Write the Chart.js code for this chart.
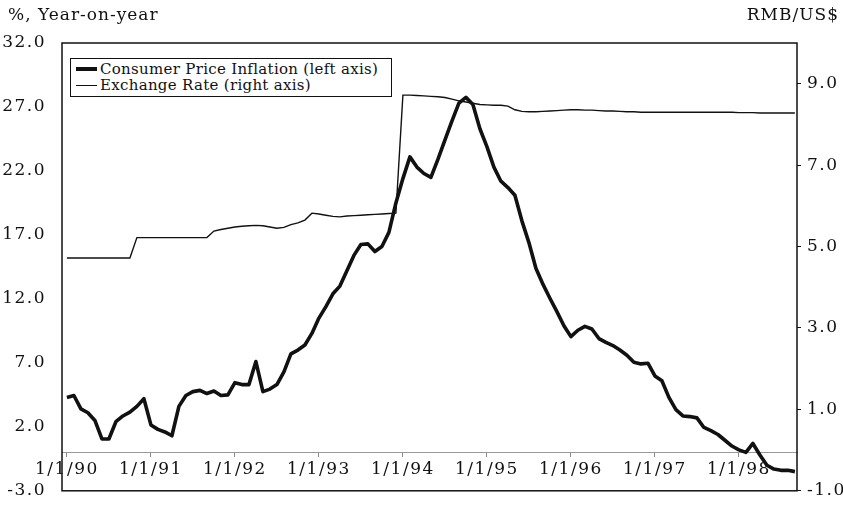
<!DOCTYPE html>
<html>
<head>
<meta charset="utf-8">
<script src="https://cdn.jsdelivr.net/npm/chart.js@4.4.1/dist/chart.umd.min.js"></script>
<style>
  html, body { margin: 0; padding: 0; background: #fff; }
  #wrap { position: relative; width: 843px; height: 509px; font-family: 'DejaVu Serif', serif; color: #111; }
  .axis-title { position: absolute; top: 4px; font-size: 17px; letter-spacing: 1px; }
  #legend {
    position: absolute; left: 70px; top: 58px; width: 322px; height: 39px;
    border: 1px solid #111; background: #fff; box-sizing: border-box;
    padding: 2px 0 0 5px; font-size: 15px; line-height: 16px; letter-spacing: 0.3px;
  }
  .row { display: flex; align-items: center; white-space: nowrap; }
  .swatch { display: inline-block; width: 21px; margin-right: 3px; border-top: 3px solid #111; }
</style>
</head>
<body>
<div id="wrap">
  <canvas id="chart" width="843" height="509"></canvas>
  <div class="axis-title" style="left:8px">%, Year-on-year</div>
  <div class="axis-title" style="right:4px">RMB/US$</div>
  <div id="legend"></div>
</div>
<script>
// monthly, Jan 1990 - Sep 1998
const inflation = [
  4.3, 4.45, 3.4, 3.1, 2.5, 1.05, 1.05, 2.4, 2.85, 3.15, 3.6, 4.2,
  2.15, 1.8, 1.6, 1.3, 3.6, 4.45, 4.75, 4.85, 4.6, 4.8, 4.45, 4.5,
  5.45, 5.3, 5.3, 7.1, 4.75, 4.95, 5.3, 6.3, 7.7, 8.0, 8.4, 9.3,
  10.5, 11.4, 12.4, 13.0, 14.2, 15.4, 16.25, 16.3, 15.7, 16.1, 17.2, 19.5,
  21.4, 23.1, 22.3, 21.8, 21.5, 22.9, 24.4, 25.9, 27.3, 27.75, 27.2, 25.3,
  23.9, 22.3, 21.2, 20.7, 20.1, 18.1, 16.4, 14.4, 13.15, 12.05, 11.0, 9.9,
  9.05, 9.55, 9.85, 9.65, 8.9, 8.6, 8.35, 8.0, 7.6, 7.05, 6.92, 6.97,
  5.98, 5.6, 4.3, 3.35, 2.85, 2.8, 2.7, 1.95, 1.7, 1.4, 0.95, 0.5,
  0.2, 0.0, 0.7, -0.2, -1.0, -1.3, -1.4, -1.4, -1.5
];

const exchangeRate = [
  4.72, 4.72, 4.72, 4.72, 4.72, 4.72, 4.72, 4.72, 4.72, 4.72, 5.22, 5.22,
  5.22, 5.22, 5.22, 5.22, 5.22, 5.22, 5.22, 5.22, 5.22, 5.38, 5.42, 5.45,
  5.48, 5.50, 5.51, 5.52, 5.51, 5.48, 5.45, 5.47, 5.54, 5.58, 5.65, 5.82,
  5.80, 5.77, 5.74, 5.73, 5.75, 5.76, 5.77, 5.78, 5.79, 5.80, 5.81, 5.82,
  8.72, 8.72, 8.71, 8.70, 8.69, 8.68, 8.66, 8.62, 8.58, 8.55, 8.52, 8.49,
  8.48, 8.47, 8.47, 8.45, 8.36, 8.32, 8.31, 8.31, 8.32, 8.33, 8.34, 8.35,
  8.36, 8.36, 8.35, 8.35, 8.34, 8.33, 8.33, 8.32, 8.31, 8.31, 8.30, 8.30,
  8.30, 8.30, 8.30, 8.30, 8.30, 8.30, 8.30, 8.30, 8.30, 8.30, 8.30, 8.30,
  8.29, 8.29, 8.29, 8.28, 8.28, 8.28, 8.28, 8.28, 8.28
];

const tickLabels = ['1/1/90', '1/1/91', '1/1/92', '1/1/93', '1/1/94', '1/1/95', '1/1/96', '1/1/97', '1/1/98'];
const leftTicks = [-3, 2, 7, 12, 17, 22, 27, 32];
const rightTicks = [-1, 1, 3, 5, 7, 9];
const seriesNames = ['Consumer Price Inflation (left axis)', 'Exchange Rate (right axis)'];

const INK = '#111';
const FONT = { family: "'DejaVu Serif', serif", size: 17 };

const toPoints = arr => arr.map((v, i) => ({ x: i, y: v }));

// wider type, closer to the old typewriter-ish serif of the source
const spacing = {
  id: 'spacing',
  beforeUpdate(chart) { chart.ctx.letterSpacing = '1.5px'; },
  beforeDraw(chart) { chart.ctx.letterSpacing = '1.5px'; }
};

const frame = {
  id: 'frame',
  afterDraw(chart) {
    const { ctx, chartArea: a } = chart;
    ctx.save();
    ctx.strokeStyle = INK;
    ctx.lineWidth = 1.5;
    ctx.strokeRect(a.left, a.top, a.right - a.left, a.bottom - a.top);
    ctx.restore();
  }
};

const chart = new Chart(document.getElementById('chart'), {
  type: 'line',
  data: {
    datasets: [
      {
        label: seriesNames[0],
        data: toPoints(inflation),
        yAxisID: 'y',
        borderColor: INK,
        borderWidth: 3.6,
        borderJoinStyle: 'round',
        pointRadius: 0,
        tension: 0
      },
      {
        label: seriesNames[1],
        data: toPoints(exchangeRate),
        yAxisID: 'y2',
        borderColor: INK,
        borderWidth: 1.4,
        pointRadius: 0,
        tension: 0
      }
    ]
  },
  options: {
    responsive: false,
    animation: false,
    layout: { padding: { top: 43, bottom: 18, left: 0, right: 0 } },
    plugins: { legend: { display: false }, tooltip: { enabled: false } },
    scales: {
      x: {
        type: 'linear',
        position: { y: 0 },
        min: -0.7,
        max: 104.3,
        afterBuildTicks: s => { s.ticks = tickLabels.map((_, i) => ({ value: i * 12 })); },
        ticks: {
          autoSkip: false,
          maxRotation: 0,
          padding: 3,
          color: INK,
          font: FONT,
          callback: v => tickLabels[v / 12]
        },
        grid: { drawOnChartArea: false, tickLength: 4, color: '#888' },
        border: { color: '#999', width: 1, dash: [7, 5] }
      },
      y: {
        position: 'left',
        min: -3,
        max: 32,
        afterBuildTicks: s => { s.ticks = leftTicks.map(v => ({ value: v })); },
        afterFit: s => { s.width = 62; },
        ticks: { color: INK, font: FONT, padding: 8, callback: v => v.toFixed(1) },
        grid: { display: false },
        border: { display: false }
      },
      y2: {
        position: 'right',
        min: -1,
        max: 10,
        afterBuildTicks: s => { s.ticks = rightTicks.map(v => ({ value: v })); },
        afterFit: s => { s.width = 46; },
        ticks: { color: INK, font: FONT, padding: 6, callback: v => v.toFixed(1) },
        grid: { drawOnChartArea: false, tickLength: 4, color: INK },
        border: { display: false }
      }
    }
  },
  plugins: [spacing, frame]
});

// legend box inside the plot, built from the datasets
const legend = document.getElementById('legend');
chart.data.datasets.forEach(ds => {
  const row = document.createElement('div');
  row.className = 'row';
  const sw = document.createElement('span');
  sw.className = 'swatch';
  sw.style.borderTopWidth = Math.max(1, Math.round(ds.borderWidth)) + 'px';
  row.appendChild(sw);
  row.appendChild(document.createTextNode(ds.label));
  legend.appendChild(row);
});
</script>
</body>
</html>
